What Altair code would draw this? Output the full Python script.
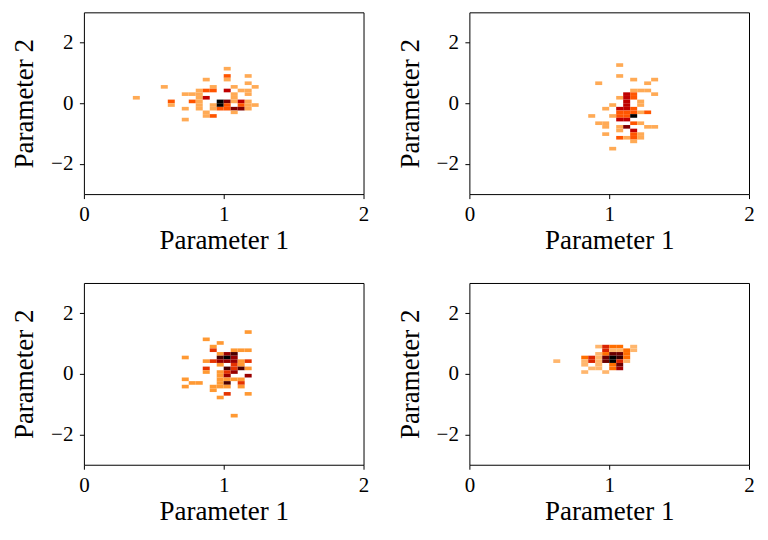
import altair as alt
import pandas as pd

# Bin grid (matches the reference's fixed bin edges)
DX = 0.05   # x bin width
DY = 0.12   # y bin width
Y0 = -3.0

# Panel 1 (top left): bin column index, bin row index, count
p1_ix = [7, 11, 12, 12, 14, 14, 14, 15, 15, 16, 16, 16, 16, 16, 16,
         17, 17, 17, 17, 17, 18, 18, 18, 18, 18, 19, 19, 19,
         20, 20, 20, 20, 20, 20, 20, 21, 21, 21, 21, 21, 21,
         22, 22, 22, 22, 23, 23, 23, 23, 23, 23, 23, 24, 24]
p1_iy = [26, 29, 25, 24, 27, 23, 20, 27, 25, 28, 27, 26, 25, 24, 23,
         31, 28, 26, 22, 21, 29, 28, 24, 23, 21, 25, 24, 23,
         34, 32, 31, 28, 25, 24, 23, 29, 27, 26, 25, 23, 22,
         28, 25, 24, 23, 32, 30, 28, 27, 25, 24, 23, 29, 24]
p1_n = [1, 1, 2, 1, 1, 1, 1, 1, 2, 1, 1, 1, 1, 1, 1,
        1, 2, 3, 1, 1, 1, 2, 1, 1, 2, 6, 6, 2,
        1, 2, 1, 3, 4, 2, 2, 1, 1, 1, 1, 4, 1,
        1, 3, 2, 4, 1, 1, 1, 1, 1, 1, 1, 1, 1]

# Panel 2 (top right)
p2_ix = [17, 18, 18, 19, 19, 19, 19, 20, 20, 20,
         21, 21, 21, 21, 21, 21, 21, 21, 21, 21,
         22, 22, 22, 22, 22, 22, 22, 22, 22, 22,
         23, 23, 23, 23, 23, 23, 23, 23, 23, 23, 23, 23,
         24, 24, 24, 24, 24, 24, 24, 25, 25, 25, 25, 26, 26, 26]
p2_iy = [21, 30, 19, 23, 19, 18, 16, 24, 21, 12,
         35, 32, 26, 23, 22, 21, 20, 18, 17, 15,
         27, 26, 25, 24, 23, 22, 21, 20, 18, 15,
         31, 28, 27, 26, 23, 22, 21, 19, 17, 16, 15, 14,
         28, 25, 24, 22, 19, 16, 15, 30, 28, 22, 18, 31, 27, 18]
p2_n = [1, 1, 1, 1, 1, 1, 1, 1, 1, 1,
        1, 1, 1, 3, 2, 2, 3, 1, 1, 2,
        3, 3, 3, 3, 3, 2, 2, 3, 4, 1,
        1, 1, 2, 2, 2, 2, 6, 2, 3, 2, 2, 1,
        1, 1, 1, 1, 1, 1, 1, 1, 1, 2, 1, 1, 1, 1]

# Panel 3 (bottom left)
p3_ix = [14, 14, 14, 15, 16, 17, 17, 17, 17, 18, 18, 18, 18, 18,
         19, 19, 19, 19, 19, 19, 19, 19, 19, 19, 19,
         20, 20, 20, 20, 20, 20, 20, 20, 20, 20,
         21, 21, 21, 21, 21, 21, 21, 21, 21,
         22, 22, 22, 22, 22, 22, 22, 23, 23, 23, 23, 23, 23]
p3_iy = [29, 23, 21, 22, 22, 34, 28, 26, 25, 32, 31, 28, 21, 20,
         33, 30, 29, 28, 27, 25, 24, 23, 22, 21, 18,
         30, 29, 28, 26, 25, 24, 23, 22, 21, 19,
         31, 30, 29, 28, 27, 26, 25, 23, 13,
         31, 28, 27, 26, 23, 22, 21, 36, 31, 28, 26, 24, 19]
p3_n = [1, 1, 1, 1, 1, 1, 1, 2, 1, 1, 2, 2, 1, 1,
        1, 1, 4, 3, 1, 1, 1, 1, 1, 1, 1,
        3, 5, 3, 4, 2, 3, 1, 4, 1, 2,
        1, 4, 3, 3, 2, 2, 3, 1, 1,
        1, 1, 1, 4, 1, 2, 1, 1, 1, 2, 1, 3, 1]

# Panel 4 (bottom right)
p4_ix = [12, 16, 16, 16, 16, 17, 17, 17, 18, 18, 18, 18, 18, 18,
         19, 19, 19, 19, 19, 19, 20, 20, 20, 20, 20, 20, 20,
         21, 21, 21, 21, 21, 21, 21, 22, 22, 22, 22, 23, 23]
p4_iy = [28, 29, 28, 27, 25, 29, 28, 26, 32, 30, 29, 28, 27, 26,
         32, 31, 30, 29, 28, 25, 32, 31, 30, 29, 28, 27, 26,
         32, 31, 30, 29, 28, 27, 26, 31, 30, 29, 28, 32, 31]
p4_n = [1, 2, 1, 1, 1, 3, 3, 1, 1, 1, 1, 1, 1, 1,
        3, 3, 2, 5, 5, 1, 2, 1, 5, 7, 7, 2, 2,
        2, 1, 5, 6, 3, 5, 4, 2, 2, 2, 1, 1, 1]

X_TICKS = [0, 1, 2]
Y_TICKS = [-2, 0, 2]
X_TITLE = "Parameter 1"
Y_TITLE = "Parameter 2"
INT_LABEL = "format(datum.value, 'd')"

# gist_heat_r colour stops
HEAT = ["#ffffff", "#ff8000", "#ff5500", "#bf0000", "#000000"]


def panel(ix, iy, n):
    df = pd.DataFrame({"ix": ix, "iy": iy, "n": n})
    df["px"] = df["ix"] * DX
    df["px2"] = df["px"] + DX
    df["py"] = Y0 + df["iy"] * DY
    df["py2"] = df["py"] + DY
    m = float(max(n))
    return (
        alt.Chart(df)
        .mark_rect()
        .encode(
            x=alt.X("px:Q", scale=alt.Scale(domain=[0, 2], nice=False, zero=False),
                    axis=alt.Axis(values=X_TICKS, labelExpr=INT_LABEL, title=X_TITLE,
                                  tickCount=3, labelOverlap=False,
                                  labelFlush=False, labelBound=False)),
            x2="px2:Q",
            y=alt.Y("py:Q", scale=alt.Scale(domain=[-3, 3], nice=False, zero=False),
                    axis=alt.Axis(values=Y_TICKS, labelExpr=INT_LABEL, title=Y_TITLE,
                                  tickCount=3, labelOverlap=False,
                                  labelFlush=False)),
            y2="py2:Q",
            color=alt.Color("n:Q", legend=None,
                            scale=alt.Scale(domain=[0, m / 4, m / 3, m / 2, m],
                                            range=HEAT, interpolate="rgb")),
        )
        .properties(width=280, height=182)
    )


chart = (
    alt.concat(
        panel(p1_ix, p1_iy, p1_n),
        panel(p2_ix, p2_iy, p2_n),
        panel(p3_ix, p3_iy, p3_n),
        panel(p4_ix, p4_iy, p4_n),
        columns=2,
        spacing={"row": 89, "column": 106},
        bounds="flush",
    )
    .resolve_scale(color="independent")
    .properties(padding={"left": 2, "top": 3, "right": 5, "bottom": 5})
    .configure_view(stroke="black", strokeWidth=1)
    .configure_axis(
        labelFont="Liberation Serif", labelFontSize=21, labelColor="black",
        titleFont="Liberation Serif", titleFontSize=27, titleFontWeight="normal",
        titleColor="black", tickColor="black", tickSize=4.5, tickWidth=1,
        domain=False, grid=False, labelPadding=5, titlePadding=3,
    )
    .configure_axisY(labelPadding=6.5, titlePadding=12)
)

chart.save("out.html", embed_options={"renderer": "svg", "actions": False})
